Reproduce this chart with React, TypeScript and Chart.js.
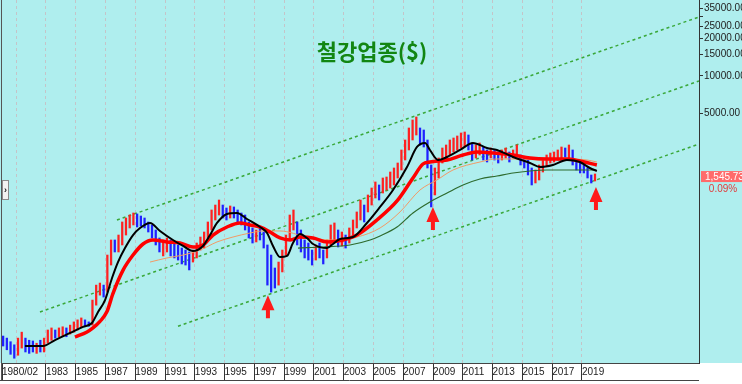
import React, { useEffect, useRef } from "react";
import { Chart, registerables } from "chart.js";

Chart.register(...registerables);

const TITLE = "철강업종($)";
const LAST_VALUE = 1545.73;
const LAST_VALUE_TEXT = "1,545.73";
const LAST_CHANGE_TEXT = "0.09%";

const X_MIN = 1980.05;
const X_MAX = 2026.86;
const Y_MIN = 48.5;
const Y_MAX = 41000;

const xTickValues = [1980.05, 1981, 1983, 1985, 1987, 1989, 1991, 1993, 1995, 1997, 1999, 2001, 2003, 2005, 2007, 2009, 2011, 2013, 2015, 2017, 2019];
const xTickLabels = ["1980/02", "", "1983", "1985", "1987", "1989", "1991", "1993", "1995", "1997", "1999", "2001", "2003", "2005", "2007", "2009", "2011", "2013", "2015", "2017", "2019"];
const yTickValues = [5000, 10000, 15000, 20000, 25000, 30000, 35000];
const yTickLabels = ["5000.00", "10000.00", "15000.00", "20000.00", "25000.00", "", "35000.00"];

// quarterly candles, 1980 Q1 .. 2019 Q4
const firstYear = 1980;
const quarterHigh = [
  80, 77, 72, 68,
  77, 86, 77, 74,
  73, 70, 74, 77,
  89.5, 93, 89.5, 93,
  95, 93, 98, 104,
  108, 112, 108, 104,
  156, 206, 214, 206,
  360, 476, 476, 522,
  665, 716, 757, 786,
  772, 743, 716, 665,
  629, 573, 494, 476,
  494, 476, 450, 434,
  410, 395, 381, 395,
  450, 503, 552, 665,
  831, 911, 1000, 911,
  862, 895, 879, 831,
  786, 757, 665, 595,
  573, 595, 552, 434,
  360, 283, 316, 395,
  522, 757, 831, 665,
  573, 476, 450, 395,
  434, 450, 395, 476,
  629, 653, 573, 552,
  522, 595, 690, 801,
  1000, 911, 1098, 1250,
  1398, 1322, 1505, 1533,
  1682, 1812, 1988, 2532,
  3048, 3809, 4418, 4673,
  3809, 3669, 3048, 1916,
  1812, 2182, 2627, 2778,
  3048, 3163, 3283, 3471,
  3536, 3344, 2883, 2778,
  2883, 2676, 2532, 2627,
  2532, 2439, 2532, 2627,
  2439, 2532, 2778, 2307,
  2223, 2102, 1812, 1746,
  1916, 2102, 2307, 2394,
  2439, 2532, 2676, 2627,
  2778, 2532, 2102, 1988,
  1916, 1812, 1591, 1621,
];
const quarterLow = [
  66.5, 62, 57, 53,
  56, 64, 59.5, 58,
  59.5, 58, 59.5, 59.5,
  70, 74, 77, 79,
  80, 79, 83, 86,
  89.5, 95, 96, 96,
  98, 142, 171, 165,
  181, 299, 381, 381,
  434, 522, 595, 629,
  606, 617, 595, 552,
  494, 434, 381, 354,
  381, 354, 341, 328,
  305, 299, 273, 316,
  341, 395, 410, 476,
  573, 690, 757, 716,
  690, 716, 716, 665,
  629, 573, 494, 450,
  459, 476, 410, 206,
  181, 195, 206, 263,
  360, 476, 573, 434,
  381, 341, 328, 299,
  328, 341, 305, 341,
  434, 476, 418, 426,
  410, 450, 522, 595,
  690, 665, 801, 911,
  1038, 1000, 1139, 1204,
  1250, 1322, 1505, 1746,
  2102, 2532, 3048, 3344,
  2778, 2676, 1812, 879,
  1098, 1505, 1988, 2102,
  2307, 2439, 2532, 2627,
  2676, 2532, 2102, 2182,
  2307, 2102, 2025, 2182,
  2102, 1988, 2102, 2182,
  2025, 2182, 2223, 1916,
  1812, 1591, 1322, 1372,
  1450, 1682, 1881, 1988,
  2025, 2102, 2182, 2223,
  2182, 1916, 1746, 1652,
  1652, 1505, 1372, 1424,
];
const quarterDir =
  "DDDD" + "UUDD" + "DUDU" + "UUDU" + "UDUU" + "UUDD" + "UUUD" + "UUDU" + "UUUU" + "DDDD" +
  "DDDU" + "UDDD" + "DDDU" + "UUUU" + "UUUD" + "DUDD" + "DDDD" + "UDDD" + "DDUU" + "UUUD" +
  "DDDD" + "UDDU" + "UUDU" + "DUUU" + "UDUU" + "UDUU" + "UUUU" + "UUUU" + "DDDD" + "UUUU" +
  "UUUU" + "UDDU" + "UDDU" + "DDUU" + "DUUD" + "DDDU" + "UUUU" + "UUUD" + "UDDD" + "DDDU";

const blackMA = [
  [1981.59, 66.5], [1982.8, 66.5], [1983.61, 74.3], [1984.62, 84.7], [1985.49, 95], [1986.09, 102],
  [1986.5, 125], [1986.97, 156], [1987.44, 235], [1987.84, 316], [1988.31, 410], [1988.85, 522],
  [1989.32, 595], [1989.99, 653], [1990.66, 563], [1991.53, 476], [1992.21, 426], [1992.88, 388],
  [1993.55, 426], [1994.02, 522], [1994.49, 653], [1995.16, 772], [1995.83, 786], [1996.5, 703],
  [1997.38, 606], [1997.85, 542], [1998.25, 426], [1998.72, 347], [1999.19, 354], [1999.59, 450],
  [2000.06, 532], [2000.53, 494], [2000.94, 442], [2001.88, 410], [2002.28, 442], [2002.75, 485],
  [2003.62, 503], [2004.56, 653], [2005.44, 879], [2006.31, 1204], [2007.25, 1846], [2007.92, 2676],
  [2008.46, 2883], [2008.79, 2532], [2009.33, 2102], [2009.94, 2223], [2010.81, 2532], [2011.68, 2883],
  [2012.62, 2627], [2013.29, 2532], [2014.37, 2223], [2015.51, 1988], [2016.18, 1846], [2017.05, 1916],
  [2017.99, 2102], [2018.86, 2025], [2019.53, 1812], [2020.0, 1714],
];
const redMA = [
  [1984.95, 78.6], [1985.76, 86.3], [1986.16, 93], [1986.63, 105], [1987.1, 126], [1987.5, 176],
  [1988.18, 272], [1988.85, 360], [1989.52, 442], [1990.19, 476], [1991.13, 459], [1992.0, 450],
  [1992.88, 418], [1993.55, 434], [1994.22, 522], [1995.16, 606], [1996.03, 653], [1996.71, 629],
  [1997.38, 606], [1998.05, 552], [1998.72, 494], [1999.4, 476], [2000.06, 503], [2000.94, 494],
  [2001.88, 459], [2002.95, 476], [2003.89, 522], [2005.23, 690], [2006.58, 982], [2007.65, 1505],
  [2008.32, 1952], [2008.79, 2025], [2009.94, 2102], [2011.01, 2307], [2011.95, 2439], [2013.03, 2394],
  [2014.37, 2307], [2015.51, 2182], [2016.65, 2142], [2017.99, 2142], [2018.86, 2063], [2020.0, 1916],
];
const orangeMA = [
  [1989.99, 316], [1991.13, 341], [1992.21, 360], [1993.35, 395], [1994.49, 459], [1995.56, 503],
  [1996.71, 542], [1997.58, 563], [1998.72, 563], [2000.53, 503], [2002.08, 476], [2003.89, 503],
  [2005.44, 595], [2006.78, 801], [2008.12, 1204], [2009.26, 1450], [2010.34, 1746], [2012.15, 2025],
  [2013.29, 2142], [2014.84, 2142], [2016.18, 2102], [2017.99, 2142], [2019.33, 2102], [2020.0, 2025],
];
const greenMA = [
  [1999.93, 410], [2001.61, 418], [2003.42, 434], [2004.77, 476], [2005.44, 513], [2006.58, 606],
  [2007.65, 786], [2008.79, 964], [2009.94, 1139], [2011.01, 1322], [2012.15, 1477], [2013.29, 1562],
  [2014.37, 1652], [2015.51, 1714], [2016.65, 1746], [2017.99, 1746], [2018.86, 1746], [2019.9, 1746],
];

const upperTrend = [[1987.77, 690], [2026.86, 29920]];
const middleTrend = [[1982.6, 125], [2026.86, 9117]];
const lowerTrend = [[1991.87, 96], [2026.86, 2829]];

const arrowYears = [1997.91, 2008.99, 2019.94];
const arrowValues = [171, 879, 1273];

const toPts = (arr: number[][]) => arr.map(([x, y]) => ({ x, y }));

export default function App() {
  const ref = useRef<HTMLCanvasElement | null>(null);

  useEffect(() => {
    document.body.style.margin = "0";
    const canvas = ref.current;
    if (!canvas) return;

    const candles = quarterHigh.map((h, i) => ({
      x: firstYear + i * 0.25 + 0.125,
      y: [quarterLow[i], h],
    }));
    const candleColors = quarterHigh.map((_, i) => (quarterDir[i] === "U" ? "#ff2020" : "#2020ff"));

    const bgPlugin = {
      id: "bg",
      beforeDraw(chart: any) {
        const { ctx, width, height, chartArea } = chart;
        ctx.save();
        ctx.fillStyle = "#afeeee";
        ctx.fillRect(0, 0, width, height);
        ctx.fillStyle = "#ffffff";
        ctx.fillRect(0, chartArea.bottom, width, height - chartArea.bottom);
        ctx.restore();
      },
    };

    const overlayPlugin = {
      id: "overlay",
      afterDraw(chart: any) {
        const { ctx, chartArea, scales } = chart;
        const xs = scales.x;
        const ys = scales.y;
        ctx.save();
        // frame lines
        ctx.strokeStyle = "#555";
        ctx.lineWidth = 1;
        ctx.beginPath();
        ctx.moveTo(1.5, 0);
        ctx.lineTo(1.5, chartArea.bottom + 17);
        ctx.stroke();
        ctx.strokeStyle = "#444";
        ctx.beginPath();
        ctx.moveTo(0, chartArea.bottom + 17.5);
        ctx.lineTo(chartArea.right, chartArea.bottom + 17.5);
        ctx.stroke();

        // small side button
        ctx.fillStyle = "#f2f2f2";
        ctx.fillRect(2, 180, 7, 20);
        ctx.strokeStyle = "#8a8a8a";
        ctx.strokeRect(2.5, 180.5, 6, 19);
        ctx.fillStyle = "#222";
        ctx.font = "bold 9px 'Liberation Sans', Arial, sans-serif";
        ctx.textAlign = "center";
        ctx.textBaseline = "middle";
        ctx.fillText("›", 5.5, 191);

        // title
        ctx.fillStyle = "#128612";
        ctx.font = "bold 22px 'Noto Sans CJK KR', sans-serif";
        ctx.textAlign = "center";
        ctx.textBaseline = "middle";
        ctx.fillText(TITLE, 372, 52);

        // arrows
        ctx.fillStyle = "#ff1a1a";
        arrowYears.forEach((yr, i) => {
          const px = xs.getPixelForValue(yr);
          const py = ys.getPixelForValue(arrowValues[i]);
          ctx.beginPath();
          ctx.moveTo(px, py);
          ctx.lineTo(px + 6.5, py + 15);
          ctx.lineTo(px + 2, py + 15);
          ctx.lineTo(px + 2, py + 23);
          ctx.lineTo(px - 2, py + 23);
          ctx.lineTo(px - 2, py + 15);
          ctx.lineTo(px - 6.5, py + 15);
          ctx.closePath();
          ctx.fill();
        });

        // last value label
        const ly = ys.getPixelForValue(LAST_VALUE);
        ctx.fillStyle = "#ff6b6b";
        ctx.fillRect(chartArea.right + 2, ly - 5.5, 50, 11);
        ctx.fillStyle = "#ffffff";
        ctx.font = "10px 'Liberation Sans', Arial, sans-serif";
        ctx.textAlign = "left";
        ctx.textBaseline = "middle";
        ctx.fillText(LAST_VALUE_TEXT, chartArea.right + 6, ly + 0.5);
        ctx.fillStyle = "#e23a3a";
        ctx.textAlign = "center";
        ctx.fillText(LAST_CHANGE_TEXT, chartArea.right + 24, ly + 13);
        ctx.restore();
      },
    };

    const lineBase = {
      type: "line" as const,
      pointRadius: 0,
      fill: false,
      cubicInterpolationMode: "monotone" as const,
    };

    const trendBase = {
      type: "line" as const,
      pointRadius: 0,
      fill: false,
      borderColor: "#3aa83a",
      borderWidth: 1.5,
      borderDash: [3, 3],
      order: 9,
    };

    const chart = new Chart(canvas, {
      type: "bar",
      data: {
        datasets: [
          { ...lineBase, data: toPts(blackMA), borderColor: "#000000", borderWidth: 2, order: 1 },
          { ...lineBase, data: toPts(redMA), borderColor: "#ff0000", borderWidth: 3.5, order: 2 },
          { ...lineBase, data: toPts(orangeMA), borderColor: "#f29a66", borderWidth: 1, order: 3 },
          { ...lineBase, data: toPts(greenMA), borderColor: "#2d6a2d", borderWidth: 1.2, order: 4 },
          {
            type: "bar",
            data: candles as any,
            backgroundColor: candleColors,
            borderWidth: 0,
            barThickness: 1.6,
            order: 5,
          },
          { ...trendBase, data: toPts(upperTrend) },
          { ...trendBase, data: toPts(middleTrend) },
          { ...trendBase, data: toPts(lowerTrend) },
        ] as any,
      },
      options: {
        responsive: false,
        animation: false,
        events: [],
        layout: { padding: { left: 2, top: 0, right: 0, bottom: 0 } },
        plugins: {
          legend: { display: false },
          tooltip: { enabled: false },
          title: { display: false },
        },
        scales: {
          x: {
            type: "linear",
            position: "bottom",
            min: X_MIN,
            max: X_MAX,
            offset: false,
            afterBuildTicks: (scale: any) => {
              scale.ticks = xTickValues.map((v) => ({ value: v }));
            },
            afterFit: (scale: any) => {
              scale.height = 21;
              scale.paddingLeft = 0;
              scale.paddingRight = 0;
            },
            ticks: {
              autoSkip: false,
              maxRotation: 0,
              minRotation: 0,
              align: "start",
              padding: -14,
              color: "#222",
              font: { size: 10, family: "'Liberation Sans', Arial, sans-serif" },
              callback: (_v: any, i: number) => xTickLabels[i],
            },
            grid: {
              offset: false,
              drawOnChartArea: true,
              drawTicks: true,
              tickLength: 17,
              color: (c: any) => (c.index === 0 ? "rgba(0,0,0,0)" : "#c4c4c8"),
              tickColor: (c: any) => (xTickLabels[c.index] === "" ? "rgba(0,0,0,0)" : "#333"),
              lineWidth: 1,
            },
            border: { display: true, color: "#444", width: 1, dash: [3, 3] },
          },
          y: {
            type: "logarithmic",
            position: "right",
            min: Y_MIN,
            max: Y_MAX,
            afterBuildTicks: (scale: any) => {
              scale.ticks = yTickValues.map((v) => ({ value: v }));
            },
            afterFit: (scale: any) => {
              scale.width = 43;
              scale.paddingTop = 0;
              scale.paddingBottom = 0;
            },
            ticks: {
              autoSkip: false,
              padding: 1,
              color: "#222",
              font: { size: 10, family: "'Liberation Sans', Arial, sans-serif" },
              callback: (_v: any, i: number) => yTickLabels[i],
            },
            grid: {
              drawOnChartArea: false,
              drawTicks: true,
              tickLength: 4,
              tickColor: "#333",
            },
            border: { display: true, color: "#333", width: 1 },
          },
        },
      } as any,
      plugins: [bgPlugin, overlayPlugin],
    });

    return () => chart.destroy();
  }, []);

  return (
    <div style={{ width: 742, height: 384, position: "relative" }}>
      <canvas ref={ref} width={742} height={384} style={{ display: "block", width: 742, height: 384 }} />
    </div>
  );
}
